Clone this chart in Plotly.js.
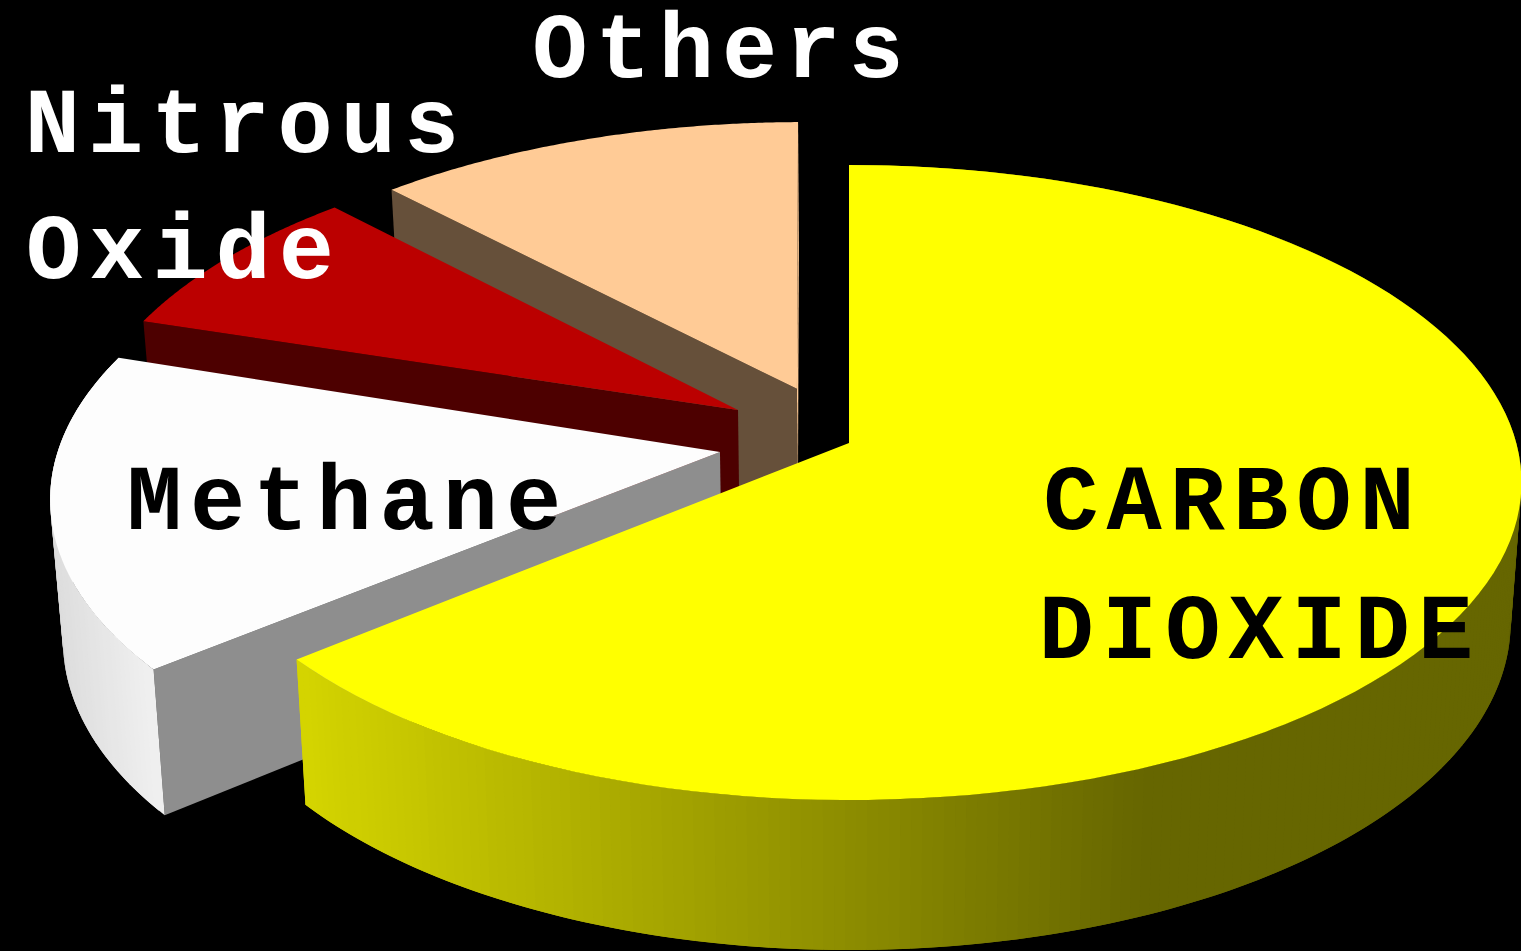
<!DOCTYPE html>
<html>
<head>
<meta charset="utf-8">
<script src="https://cdn.plot.ly/plotly-3.0.1.min.js"></script>
<style>html,body{margin:0;padding:0;background:#000;overflow:hidden}#chart{width:1521px;height:951px}#chart text{letter-spacing:8px}</style>
</head>
<body>
<div id="chart"></div>
<script>
// Data: share of each gas, in drawing order from 12 o'clock going counter-clockwise
const gases = ['Others', 'Nitrous Oxide', 'Methane', 'CARBON DIOXIDE'];
const shares = [12, 8, 16, 64];

// Labels
const labelLines = ['Others', 'Nitrous', 'Oxide', 'Methane', 'CARBON', 'DIOXIDE'];
const labelColours = ['#ffffff', '#ffffff', '#ffffff', '#000000', '#000000', '#000000'];
const labelX = [722, 246, 184, 348, 1233, 1260];
const labelY = [54, 129, 255, 506, 506, 635];

// Styles
const topColours = ['#FFCB96', '#BB0000', '#FDFDFD', '#FFFF00'];
const sideColours = ['#66503A', '#4D0000', '#8E8E8E', '#D4D400'];

// Explosion of each slice, in pie radii on the pie's plane (x right, z to viewer)
const explodeX = [-0.0806, -0.1704, -0.1948, 0];
const explodeZ = [-0.177, -0.107, 0.0287, 0];
const turn = [0.45, 0.4, -0.1, 0];   // small rotation of each slice, degrees

// Camera
const cx = 849, cy = 443, radX = 660, radZ = 312.6, persp = 0.1245, thick = 138, thickPersp = 0.08, lean = 0.016, rightStretch = 1.011;
const project = (X, Z) => {
  const w = 1 - persp * Z;
  return [cx + radX * X / w * (X > 0 ? rightStretch : 1), cy + radZ * Z / w];
};
const drop = (X, Z) => {
  const [x, y] = project(X, Z);
  return [x - lean * (x - cx), y + thick / (1 - thickPersp * Z)];
};

const traces = [];
const poly = (pts, colour, name) => traces.push({
  type: 'scatter', mode: 'none', x: pts.map(p => p[0]), y: pts.map(p => p[1]),
  fill: 'toself', fillcolor: colour,
  hoverinfo: 'skip', name: name, showlegend: false
});
const rim = (ex, ez, deg) => {
  const a = deg * Math.PI / 180;           // measured counter-clockwise from 12 o'clock
  return [ex - Math.sin(a), ez - Math.cos(a)];
};
const grey = v => 'rgb(' + v + ',' + v + ',' + v + ')';
const olive = v => 'rgb(' + v + ',' + v + ',0)';
const clamp = (v, a, b) => Math.max(a, Math.min(b, v));

let start = 0;
shares.forEach((share, i) => {
  const sweep = share * 3.6, s0 = start + turn[i], end = s0 + sweep, ex = explodeX[i], ez = explodeZ[i];
  const a0 = rim(ex, ez, s0), a1 = rim(ex, ez, end);
  // radial walls
  const side = (p, col) => poly([project(ex, ez), project(p[0], p[1]), drop(p[0], p[1]), drop(ex, ez)], col, gases[i]);
  if (i === 0) side(a0, topColours[0]);
  side(a1, sideColours[i]);
  // outer wall, shaded strip by strip; the strips overlap so no seams show
  if (i >= 2) {
    const steps = Math.round(sweep * 1.2);
    for (let s = 0; s < steps; s++) {
      const p = rim(ex, ez, s0 + sweep * s / steps), q = rim(ex, ez, s0 + sweep * (s + 1) / steps);
      const r = rim(ex, ez, s0 + sweep * Math.max(0, s - 1) / steps);
      const mx = project(p[0], p[1])[0];
      const col = i === 3 ? olive(Math.round(clamp(212 - (mx - 305) * 110 / 845, 102, 218)))
                          : grey(Math.round(clamp(222 + (mx - 60) * 20 / 105, 218, 244)));
      poly([project(r[0], r[1]), project(q[0], q[1]), drop(q[0], q[1]), drop(r[0], r[1])], col, gases[i]);
    }
  }
  // top face
  const face = [project(ex, ez)];
  for (let s = 0; s <= 120; s++) {
    const p = rim(ex, ez, s0 + sweep * s / 120);
    face.push(project(p[0], p[1]));
  }
  face.push(project(ex, ez));
  poly(face, topColours[i], gases[i]);
  start += sweep;
});

traces.push({
  type: 'scatter', mode: 'text', x: labelX, y: labelY, text: labelLines,
  textposition: 'middle center', hoverinfo: 'skip', showlegend: false,
  textfont: {family: '"Liberation Mono", "Courier New", monospace', size: 92, weight: 700, color: labelColours}
});

Plotly.newPlot('chart', traces, {
  width: 1521, height: 951, margin: {l: 0, r: 0, t: 0, b: 0},
  paper_bgcolor: '#000', plot_bgcolor: '#000', showlegend: false,
  xaxis: {range: [0, 1521], visible: false, fixedrange: true},
  yaxis: {range: [951, 0], visible: false, fixedrange: true}
}, {displayModeBar: false, staticPlot: true});
</script>
</body>
</html>
